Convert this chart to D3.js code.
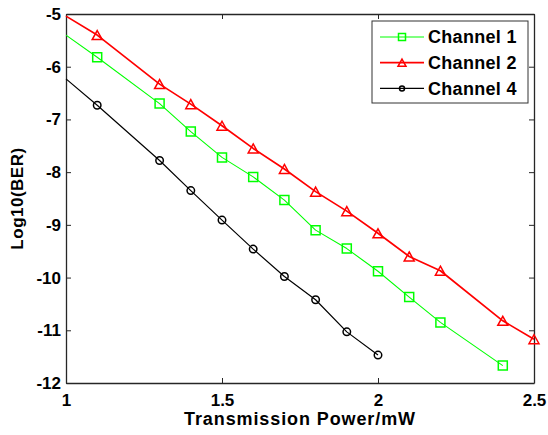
<!DOCTYPE html>
<html>
<head>
<meta charset="utf-8">
<script src="https://cdn.jsdelivr.net/npm/d3@7"></script>
<style>
  body { margin: 0; background: #fff; }
  svg { display: block; font-family: 'Liberation Sans', Arial, sans-serif; }
</style>
</head>
<body>
<svg id="chart" width="548" height="435"></svg>
<script>
// values
const power1 = [1.0, 1.1, 1.3, 1.4, 1.5, 1.6, 1.7, 1.8, 1.9, 2.0, 2.1, 2.2, 2.4];
const channel1 = [-5.40, -5.82, -6.70, -7.23, -7.72, -8.09, -8.53, -9.10, -9.45, -9.88, -10.37, -10.85, -11.67];

const power2 = [1.0, 1.1, 1.3, 1.4, 1.5, 1.6, 1.7, 1.8, 1.9, 2.0, 2.1, 2.2, 2.4, 2.5];
const channel2 = [-5.04, -5.40, -6.33, -6.71, -7.12, -7.55, -7.94, -8.37, -8.74, -9.16, -9.60, -9.87, -10.82, -11.17];

const power4 = [1.0, 1.1, 1.3, 1.4, 1.5, 1.6, 1.7, 1.8, 1.9, 2.0];
const channel4 = [-6.23, -6.73, -7.78, -8.35, -8.91, -9.46, -9.98, -10.42, -11.03, -11.47];

const xTicks = [1, 1.5, 2, 2.5];
const yTicks = [-12, -11, -10, -9, -8, -7, -6, -5];
const seriesNames = ['Channel 1', 'Channel 2', 'Channel 4'];

const series = [
  {name: seriesNames[0], xs: power1, ys: channel1, color: '#00ff00', marker: 'square', width: 1.1},
  {name: seriesNames[1], xs: power2, ys: channel2, color: '#ff0000', marker: 'triangle', width: 1.7},
  {name: seriesNames[2], xs: power4, ys: channel4, color: '#000000', marker: 'circle', width: 1.2}
];

const margin = {top: 14, right: 14, bottom: 52, left: 66};
const svg = d3.select('#chart');
const width = +svg.attr('width') - margin.left - margin.right;
const height = +svg.attr('height') - margin.top - margin.bottom;

const g = svg.append('g')
  .attr('transform', 'translate(' + margin.left + ',' + margin.top + ')');

const x = d3.scaleLinear().domain([1, 2.5]).range([0, width]);
const y = d3.scaleLinear().domain([-12, -5]).range([height, 0]);

// axes: ticks point inward, box on all four sides
const axisBottomG = g.append('g')
  .attr('transform', 'translate(0,' + height + ')')
  .call(d3.axisBottom(x).tickValues(xTicks).tickFormat(d => String(d)).tickSizeInner(-5).tickSizeOuter(0).tickPadding(11));
const axisLeftG = g.append('g')
  .call(d3.axisLeft(y).tickValues(yTicks).tickFormat(d => String(d)).tickSizeInner(-5).tickSizeOuter(0).tickPadding(5));
const axisTopG = g.append('g')
  .call(d3.axisTop(x).tickValues(xTicks).tickFormat('').tickSizeInner(-5).tickSizeOuter(0));
const axisRightG = g.append('g')
  .attr('transform', 'translate(' + width + ',0)')
  .call(d3.axisRight(y).tickValues(yTicks).tickFormat('').tickSizeInner(-5).tickSizeOuter(0));

[axisBottomG, axisLeftG, axisTopG, axisRightG].forEach(a => {
  a.select('.domain').attr('stroke', '#262626').attr('stroke-width', 1.3);
  a.selectAll('.tick line').attr('stroke', '#262626');
  a.selectAll('.tick text')
    .attr('fill', '#000')
    .attr('font-size', 17)
    .attr('font-weight', 'bold')
    .attr('font-family', "'Liberation Sans', Arial, sans-serif");
});

const markerPath = (type, s) => {
  if (type === 'square') {
    return 'M' + (-s / 2) + ',' + (-s / 2) + 'h' + s + 'v' + s + 'h' + (-s) + 'Z';
  }
  if (type === 'triangle') {
    const h = s * 0.9;
    return 'M0,' + (-h / 2) + 'L' + (s / 2) + ',' + (h / 2) + 'L' + (-s / 2) + ',' + (h / 2) + 'Z';
  }
  const r = s / 2;
  return 'M' + r + ',0A' + r + ',' + r + ' 0 1,1 ' + (-r) + ',0A' + r + ',' + r + ' 0 1,1 ' + r + ',0Z';
};

const markerSize = {square: 9, triangle: 10, circle: 7.5};
const legendSize = {square: 7, triangle: 8, circle: 5};

const line = d3.line()
  .x(d => x(d[0]))
  .y(d => y(d[1]));

series.forEach(s => {
  const pts = s.xs.map((v, i) => [v, s.ys[i]]);
  g.append('path')
    .datum(pts)
    .attr('fill', 'none')
    .attr('stroke', s.color)
    .attr('stroke-width', s.width)
    .attr('stroke-linejoin', 'round')
    .attr('d', line);

  g.selectAll(null)
    .data(pts.filter(d => d[0] > 1))
    .enter()
    .append('path')
    .attr('transform', d => 'translate(' + x(d[0]) + ',' + y(d[1]) + ')')
    .attr('d', markerPath(s.marker, markerSize[s.marker]))
    .attr('fill', 'none')
    .attr('stroke', s.color)
    .attr('stroke-width', 1.5);
});

// axis titles
svg.append('text')
  .attr('x', margin.left + width / 2)
  .attr('y', 425)
  .attr('text-anchor', 'middle')
  .attr('font-size', 18)
  .attr('font-weight', 'bold')
  .attr('letter-spacing', 0.9)
  .text('Transmission Power/mW');

svg.append('text')
  .attr('transform', 'translate(23,' + (margin.top + height / 2) + ') rotate(-90)')
  .attr('text-anchor', 'middle')
  .attr('font-size', 17)
  .attr('font-weight', 'bold')
  .attr('letter-spacing', 0.5)
  .text('Log10(BER)');

// legend
const legend = svg.append('g').attr('transform', 'translate(372,21)');
legend.append('rect')
  .attr('width', 156)
  .attr('height', 82)
  .attr('fill', '#fff')
  .attr('stroke', '#333')
  .attr('stroke-width', 1);

series.forEach((s, i) => {
  const row = legend.append('g').attr('transform', 'translate(0,' + (16 + i * 25.7) + ')');
  row.append('line')
    .attr('x1', 8).attr('x2', 52)
    .attr('stroke', s.color)
    .attr('stroke-width', s.width);
  row.append('path')
    .attr('transform', 'translate(30,0)')
    .attr('d', markerPath(s.marker, legendSize[s.marker]))
    .attr('fill', 'none')
    .attr('stroke', s.color)
    .attr('stroke-width', 1.5);
  row.append('text')
    .attr('x', 56)
    .attr('dy', '0.35em')
    .attr('font-size', 18)
    .attr('font-weight', 'bold')
    .attr('letter-spacing', 0.3)
    .text(s.name);
});
</script>
</body>
</html>
